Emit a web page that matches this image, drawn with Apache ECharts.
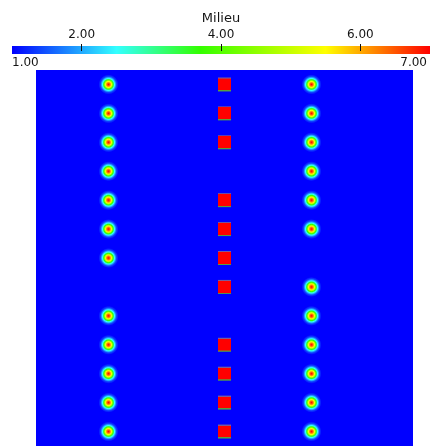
<!DOCTYPE html>
<html><head><meta charset="utf-8">
<script src="https://cdn.jsdelivr.net/npm/echarts@6/dist/echarts.min.js"></script>
<style>html,body{margin:0;padding:0;background:#fff;overflow:hidden}#c{width:430px;height:446px}</style>
</head><body><div id="c"></div>
<script>
// ---- data ----
const colorbarTitle = 'Milieu';
const rangeMin = 1, rangeMax = 7;
const majorTickValues = [2, 4, 6];
const endLabelValues = [1, 7];
const minorTickStep = 0.2;
const cmapValues = [1, 2.5, 3.7, 5.5, 7];
const cmapColors = ['#0000ff', '#33ffff', '#33ff00', '#ffff00', '#ff0000'];
const fieldSize = 13;
const backgroundValue = 1;
const columnX = [2.5, 6.5, 9.5];
const leftRows = [0, 1, 2, 3, 4, 5, 6, 8, 9, 10, 11, 12];
const midRows = [0, 1, 2, 4, 5, 6, 7, 9, 10, 11, 12];
const rightRows = [0, 1, 2, 3, 4, 5, 7, 8, 9, 10, 11, 12];
const blobProfileR = [0, 0.15, 0.3, 0.47, 0.6, 0.8, 1];
const blobProfileV = [7, 6.4, 5.5, 3.7, 2.5, 1.4, 1];
const squareValue = 7;

// ---- colour helpers ----
function hex2rgb(h) { return [1, 3, 5].map(i => parseInt(h.slice(i, i + 2), 16)); }
function colorAt(v) {
  if (v <= cmapValues[0]) return cmapColors[0];
  for (let i = 1; i < cmapValues.length; i++) {
    if (v <= cmapValues[i]) {
      const t = (v - cmapValues[i - 1]) / (cmapValues[i] - cmapValues[i - 1]);
      const a = hex2rgb(cmapColors[i - 1]), b = hex2rgb(cmapColors[i]);
      const c = a.map((x, k) => Math.round(x + (b[k] - x) * t));
      return 'rgb(' + c.join(',') + ')';
    }
  }
  return cmapColors[cmapColors.length - 1];
}
const barStops = cmapValues.map((v, i) => ({ offset: (v - rangeMin) / (rangeMax - rangeMin), color: cmapColors[i] }));
const blobStops = blobProfileR.map((r, i) => ({ offset: r, color: colorAt(blobProfileV[i]) }));

const circleData = [];
leftRows.forEach(r => circleData.push([columnX[0], r + 0.5]));
rightRows.forEach(r => circleData.push([columnX[2], r + 0.5]));
const squareData = midRows.map(r => [columnX[1], r + 0.5]);

const txt = { fontFamily: 'DejaVu Sans', color: '#141414' };
const chart = echarts.init(document.getElementById('c'), null, { renderer: 'canvas' });
chart.setOption({
  animation: false,
  backgroundColor: '#ffffff',
  grid: [
    { left: 36, top: 70, width: 377, height: 377 },
    { left: 12, top: 46, width: 424, height: 8 },
    { left: 12, top: 46, width: 418, height: 8 },
    { left: 12, top: 46, width: 424, height: 8 }
  ],
  xAxis: [
    { gridIndex: 0, type: 'value', min: 0, max: fieldSize, show: false },
    { gridIndex: 1, type: 'value', min: rangeMin, max: rangeMax, position: 'top', interval: minorTickStep,
      axisLine: { show: false }, axisTick: { show: true, length: 3, lineStyle: { color: '#111', width: 1 } },
      axisLabel: { show: false }, splitLine: { show: false } },
    { gridIndex: 2, type: 'value', min: rangeMin, max: rangeMax, position: 'bottom',
      axisLine: { show: false }, axisTick: { show: false }, splitLine: { show: false },
      axisLabel: { customValues: endLabelValues, formatter: v => v.toFixed(2), alignMinLabel: 'left', alignMaxLabel: 'right',
        margin: 2.5, fontSize: 12, ...txt } },
    { gridIndex: 3, type: 'value', min: rangeMin, max: rangeMax, position: 'top', offset: -3, z: 10,
      axisLine: { show: false }, splitLine: { show: false },
      axisTick: { show: true, customValues: majorTickValues, length: 7, lineStyle: { color: '#111', width: 1 } },
      axisLabel: { customValues: majorTickValues, formatter: v => v.toFixed(2), margin: 8, fontSize: 12, ...txt },
      name: colorbarTitle, nameLocation: 'middle', nameGap: 24, nameTextStyle: { fontSize: 13, ...txt } }
  ],
  yAxis: [
    { gridIndex: 0, type: 'value', min: 0, max: fieldSize, inverse: true, show: false },
    { gridIndex: 1, type: 'value', min: 0, max: 1, show: false },
    { gridIndex: 2, type: 'value', min: 0, max: 1, show: false },
    { gridIndex: 3, type: 'value', min: 0, max: 1, show: false }
  ],
  series: [
    { type: 'custom', xAxisIndex: 0, yAxisIndex: 0, silent: true, z: 1,
      data: [[0, 0, fieldSize, fieldSize]],
      renderItem: (p, api) => {
        const a = api.coord([api.value(0), api.value(1)]);
        const b = api.coord([api.value(2), api.value(3)]);
        return { type: 'rect', shape: { x: a[0], y: a[1], width: b[0] - a[0], height: b[1] - a[1] },
          style: { fill: colorAt(backgroundValue) } };
      } },
    { type: 'scatter', xAxisIndex: 0, yAxisIndex: 0, silent: true, z: 3, symbol: 'circle', symbolSize: 20,
      data: circleData,
      itemStyle: { color: new echarts.graphic.RadialGradient(0.5, 0.5, 0.5, blobStops), opacity: 1 } },
    { type: 'scatter', xAxisIndex: 0, yAxisIndex: 0, silent: true, z: 3, symbol: 'rect', symbolSize: [13, 14],
      data: squareData,
      itemStyle: { opacity: 1, color: new echarts.graphic.LinearGradient(0, 0, 0, 1, [
        { offset: 0, color: '#7a5a9a' }, { offset: 0.07, color: '#7a5a9a' },
        { offset: 0.08, color: colorAt(squareValue) }, { offset: 0.9, color: colorAt(squareValue) },
        { offset: 0.92, color: '#58a040' }, { offset: 1, color: '#58a040' }]) } },
    { type: 'custom', xAxisIndex: 1, yAxisIndex: 1, silent: true, z: 2,
      data: [[rangeMin, rangeMax]],
      renderItem: (p, api) => {
        const a = api.coord([api.value(0), 1]);
        const b = api.coord([api.value(1), 0]);
        return { type: 'rect', shape: { x: a[0], y: a[1], width: b[0] - a[0], height: b[1] - a[1] },
          style: { fill: new echarts.graphic.LinearGradient(0, 0, 1, 0, barStops) } };
      } }
  ]
});
</script></body></html>
